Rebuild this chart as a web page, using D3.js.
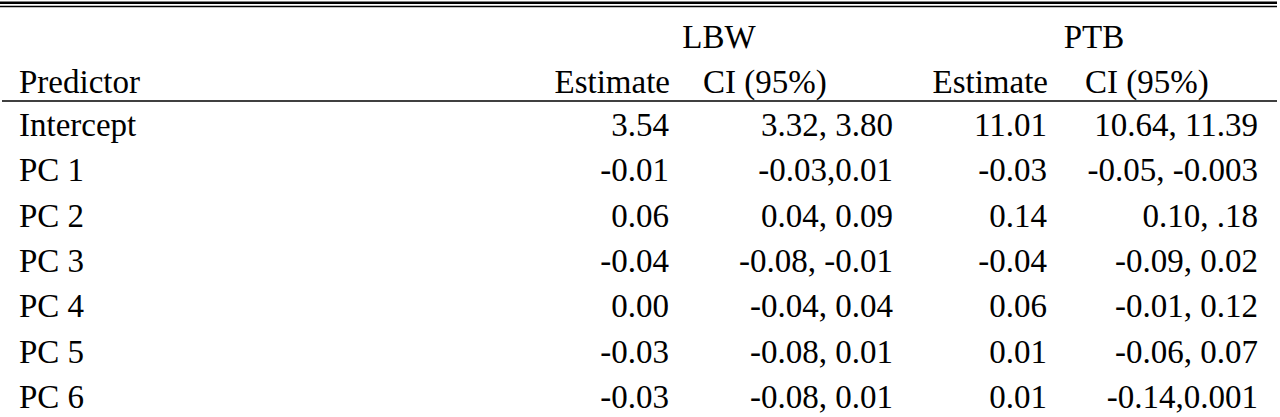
<!DOCTYPE html>
<html>
<head>
<meta charset="utf-8">
<script src="https://cdn.jsdelivr.net/npm/d3@7"></script>
<style>
  body { margin: 0; background: #fff; }
</style>
</head>
<body>
<div id="table"></div>
<script>
// Table of model estimates, LBW and PTB outcomes

const width = 1280;
const height = 417;
const fontSize = 33;

// data
const predictors = ["Intercept", "PC 1", "PC 2", "PC 3", "PC 4", "PC 5", "PC 6"];
const lbwEstimate = ["3.54", "-0.01", "0.06", "-0.04", "0.00", "-0.03", "-0.03"];
const lbwCI = ["3.32, 3.80", "-0.03,0.01", "0.04, 0.09", "-0.08, -0.01", "-0.04, 0.04", "-0.08, 0.01", "-0.08, 0.01"];
const ptbEstimate = ["11.01", "-0.03", "0.14", "-0.04", "0.06", "0.01", "0.01"];
const ptbCI = ["10.64, 11.39", "-0.05, -0.003", "0.10, .18", "-0.09, 0.02", "-0.01, 0.12", "-0.06, 0.07", "-0.14,0.001"];

const groups = ["LBW", "PTB"];
const subHeaders = ["Estimate", "CI (95%)"];

const svg = d3.select("#table")
  .append("svg")
  .attr("width", width)
  .attr("height", height)
  .attr("viewBox", [0, 0, width, height])
  .attr("font-family", "'Liberation Serif', 'Times New Roman', Times, 'DejaVu Serif', serif")
  .attr("fill", "#000");

// row baselines
const yRow = d3.scalePoint()
  .domain(predictors)
  .range([136, 408]);

// right edge of each data column
const columns = [
  {key: "lbwEst", values: lbwEstimate, right: 669},
  {key: "lbwCI", values: lbwCI, right: 893},
  {key: "ptbEst", values: ptbEstimate, right: 1047},
  {key: "ptbCI", values: ptbCI, right: 1258}
];

// rules at the top
svg.append("line")
  .attr("x1", 0).attr("x2", 1277)
  .attr("y1", 2.8).attr("y2", 2.8)
  .attr("stroke", "#000").attr("stroke-width", 2.4);
svg.append("line")
  .attr("x1", 0).attr("x2", 1277)
  .attr("y1", 6.6).attr("y2", 6.6)
  .attr("stroke", "#000").attr("stroke-width", 1.5);

// rule under the header
svg.append("line")
  .attr("x1", 2).attr("x2", 1277)
  .attr("y1", 101).attr("y2", 101)
  .attr("stroke", "#000").attr("stroke-width", 1.6);

// group headers
const groupX = d3.scaleOrdinal().domain(groups).range([719, 1094]);
svg.selectAll(".group")
  .data(groups)
  .enter()
  .append("text")
    .attr("class", "group")
    .attr("x", d => groupX(d))
    .attr("y", 48)
    .attr("text-anchor", "middle")
    .attr("font-size", fontSize)
    .text(d => d);

// sub headers
svg.append("text")
  .attr("x", 19).attr("y", 93)
  .attr("font-size", fontSize)
  .text("Predictor");

groups.forEach((g, gi) => {
  const est = columns[gi * 2];
  svg.append("text")
    .attr("x", est.right + 1)
    .attr("y", 93)
    .attr("text-anchor", "end")
    .attr("font-size", fontSize)
    .text(subHeaders[0]);
  svg.append("text")
    .attr("x", [703, 1085][gi])
    .attr("y", 93)
    .attr("font-size", fontSize)
    .text(subHeaders[1]);
});

// predictor names
svg.selectAll(".pred")
  .data(predictors)
  .enter()
  .append("text")
    .attr("class", "pred")
    .attr("x", 19)
    .attr("y", d => yRow(d))
    .attr("font-size", fontSize)
    .text(d => d);

// value cells
columns.forEach(col => {
  svg.selectAll("." + col.key)
    .data(col.values)
    .enter()
    .append("text")
      .attr("class", col.key)
      .attr("x", col.right)
      .attr("y", (d, i) => yRow(predictors[i]))
      .attr("text-anchor", "end")
      .attr("font-size", fontSize)
      .text(d => d);
});
</script>
</body>
</html>
